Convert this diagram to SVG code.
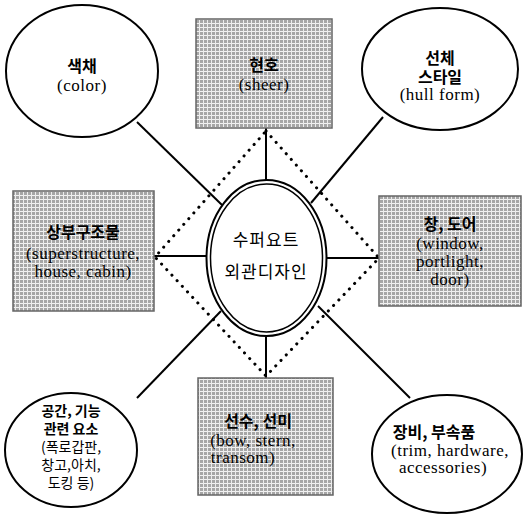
<svg xmlns="http://www.w3.org/2000/svg" width="523" height="521" viewBox="0 0 523 521">
<defs>
<pattern id="grid" width="4" height="4" patternUnits="userSpaceOnUse">
<rect width="4" height="4" fill="#a6a6a6"/>
<rect x="0" y="3" width="4" height="1" fill="#f2f2f2"/>
<rect x="3" y="0" width="1" height="4" fill="#ececec"/>
</pattern>
</defs>
<style>
.ell{fill:#fff;stroke:#000;stroke-width:2}
.box{fill:url(#grid);stroke:#666;stroke-width:1.5}
.ln{stroke:#000;stroke-width:2;fill:none}
.dot{stroke:#000;stroke-width:3;fill:none;stroke-dasharray:0.1 7.5;stroke-linecap:round}
.ko{font-family:"Noto Sans CJK KR","Noto Sans",sans-serif;font-size:16px;font-weight:bold;fill:#000;text-anchor:middle}
.kn{font-family:"Noto Sans CJK KR","Noto Sans",sans-serif;font-size:16px;fill:#000;text-anchor:middle}
.en{font-family:"Liberation Serif",serif;font-size:17px;letter-spacing:0.5px;fill:#000;text-anchor:middle}
.sm{font-size:14px}
</style>
<g id="connectors">
<path class="dot" d="M266,131 L379,258 L266,376 L155,257 Z"/>
<line class="ln" x1="137" y1="122" x2="222" y2="205"/>
<line class="ln" x1="383" y1="117" x2="311" y2="203"/>
<line class="ln" x1="137" y1="398" x2="221" y2="311"/>
<line class="ln" x1="410" y1="398" x2="318" y2="306"/>
<line class="ln" x1="266" y1="128" x2="266" y2="180"/>
<line class="ln" x1="266" y1="337" x2="266" y2="378"/>
<line class="ln" x1="154" y1="256" x2="206" y2="256"/>
<line class="ln" x1="327" y1="258" x2="379" y2="258"/>
</g>
<g id="center">
<ellipse class="ell" cx="266.5" cy="258" rx="60" ry="78"/>
<ellipse cx="266.5" cy="258" rx="56" ry="74" fill="none" stroke="#000" stroke-width="1.5"/>
<text class="kn" x="266" y="246" style="font-size:17px;letter-spacing:1px">수퍼요트</text>
<text class="kn" x="266" y="278" style="font-size:17px;letter-spacing:1px">외관디자인</text>
</g>
<g id="color">
<ellipse class="ell" cx="82" cy="71" rx="76" ry="66"/>
<text class="ko" x="82" y="72">색채</text>
<text class="en" x="82" y="91">(color)</text>
</g>
<g id="sheer">
<rect class="box" x="196" y="19" width="136" height="109"/>
<text class="ko" x="264" y="71">현호</text>
<text class="en" x="264" y="90">(sheer)</text>
</g>
<g id="hull">
<ellipse class="ell" cx="440" cy="69" rx="78" ry="61"/>
<text class="ko" x="440" y="64">선체</text>
<text class="ko" x="440" y="83">스타일</text>
<text class="en" x="440" y="100">(hull form)</text>
</g>
<g id="superstructure">
<rect class="box" x="13" y="191" width="141" height="120"/>
<text class="ko" x="83" y="238">상부구조물</text>
<text class="en" x="83" y="259">(superstructure,</text>
<text class="en" x="83" y="277">house, cabin)</text>
</g>
<g id="window">
<rect class="box" x="379" y="196" width="142" height="110"/>
<text class="ko" x="450" y="230">창, 도어</text>
<text class="en" x="450" y="249">(window,</text>
<text class="en" x="450" y="267">portlight,</text>
<text class="en" x="450" y="285">door)</text>
</g>
<g id="space">
<ellipse class="ell" cx="71" cy="450" rx="66" ry="57"/>
<text class="ko sm" x="71" y="416">공간, 기능</text>
<text class="ko sm" x="71" y="434">관련 요소</text>
<text class="kn sm" x="71" y="452">(폭로갑판,</text>
<text class="kn sm" x="71" y="470">창고,아치,</text>
<text class="kn sm" x="71" y="488">도킹 등)</text>
</g>
<g id="bow">
<rect class="box" x="198" y="378" width="135" height="117"/>
<text class="ko" x="258" y="427">선수, 선미</text>
<text class="en" x="253" y="446">(bow, stern,</text>
<text class="en" x="243" y="463">transom)</text>
</g>
<g id="trim">
<ellipse class="ell" cx="447" cy="454" rx="75" ry="59"/>
<text class="ko" x="434" y="438">장비, 부속품</text>
<text class="en" x="450" y="456">(trim, hardware,</text>
<text class="en" x="443" y="473">accessories)</text>
</g>
</svg>
